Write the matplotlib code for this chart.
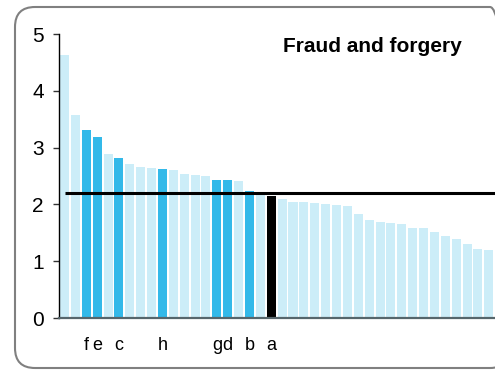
import numpy as np
import matplotlib
matplotlib.use('Agg')
import matplotlib.pyplot as plt
from matplotlib.patches import FancyBboxPatch

plt.rcParams['font.family'] = ['Liberation Sans', 'DejaVu Sans']

# Rates per country, sorted high to low
values = [4.63, 3.57, 3.31, 3.19, 2.89, 2.82, 2.71, 2.66, 2.64, 2.62,
          2.60, 2.53, 2.52, 2.50, 2.43, 2.43, 2.41, 2.23, 2.18, 2.15,
          2.09, 2.05, 2.05, 2.02, 2.01, 1.99, 1.97, 1.83, 1.72, 1.69,
          1.67, 1.65, 1.58, 1.58, 1.51, 1.44, 1.39, 1.30, 1.21, 1.19,
          1.00]
# Highlighted bars: letter key -> bar index
marked = {2: 'f', 3: 'e', 5: 'c', 9: 'h', 14: 'g', 15: 'd', 17: 'b', 19: 'a'}
reference = 19
average = 2.20
title = 'Fraud and forgery'

LIGHT = '#ccedf8'
MID = '#33b9e9'

fig = plt.figure(figsize=(4.95, 3.70), dpi=100)

# rounded panel frame
frame = FancyBboxPatch((0.15, 0.02), 4.95, 3.61,
                       boxstyle='round,pad=0,rounding_size=0.2',
                       transform=fig.dpi_scale_trans, facecolor='none',
                       edgecolor='#808080', linewidth=1.5, zorder=0)
fig.patches.append(frame)

ax = fig.add_axes([0.1202, 0.1405, 0.9025, 0.7676])
ax.set_facecolor('none')

x = np.arange(len(values))
colors = []
for i in x:
    if i == reference:
        colors.append('black')
    elif i in marked:
        colors.append(MID)
    else:
        colors.append(LIGHT)
ax.bar(x, values, width=0.83, color=colors, linewidth=0)

ax.hlines(average, 0, len(values), color='black', linewidth=2.2, zorder=3)

ax.set_xlim(-0.46, 40.6)
ax.set_ylim(0, 5)
ax.set_yticks(range(6))
ax.tick_params(axis='y', labelsize=15, length=4.3, width=1, pad=7,
               color='#333333')
keys = sorted(marked)
ax.set_xticks(keys)
ax.set_xticklabels([marked[k] for k in keys], fontsize=13)
ax.tick_params(axis='x', length=0, pad=14)

for s in ('top', 'right'):
    ax.spines[s].set_visible(False)
ax.spines['left'].set_linewidth(1)
ax.spines['bottom'].set_linewidth(1.6)
ax.spines['bottom'].set_color('#56666c')
ax.spines['bottom'].set_zorder(4)

fig.text(0.7525, 0.8595, title, ha='center', va='baseline',
         fontsize=15, fontweight='bold')

fig.savefig('out.png', dpi=100)
